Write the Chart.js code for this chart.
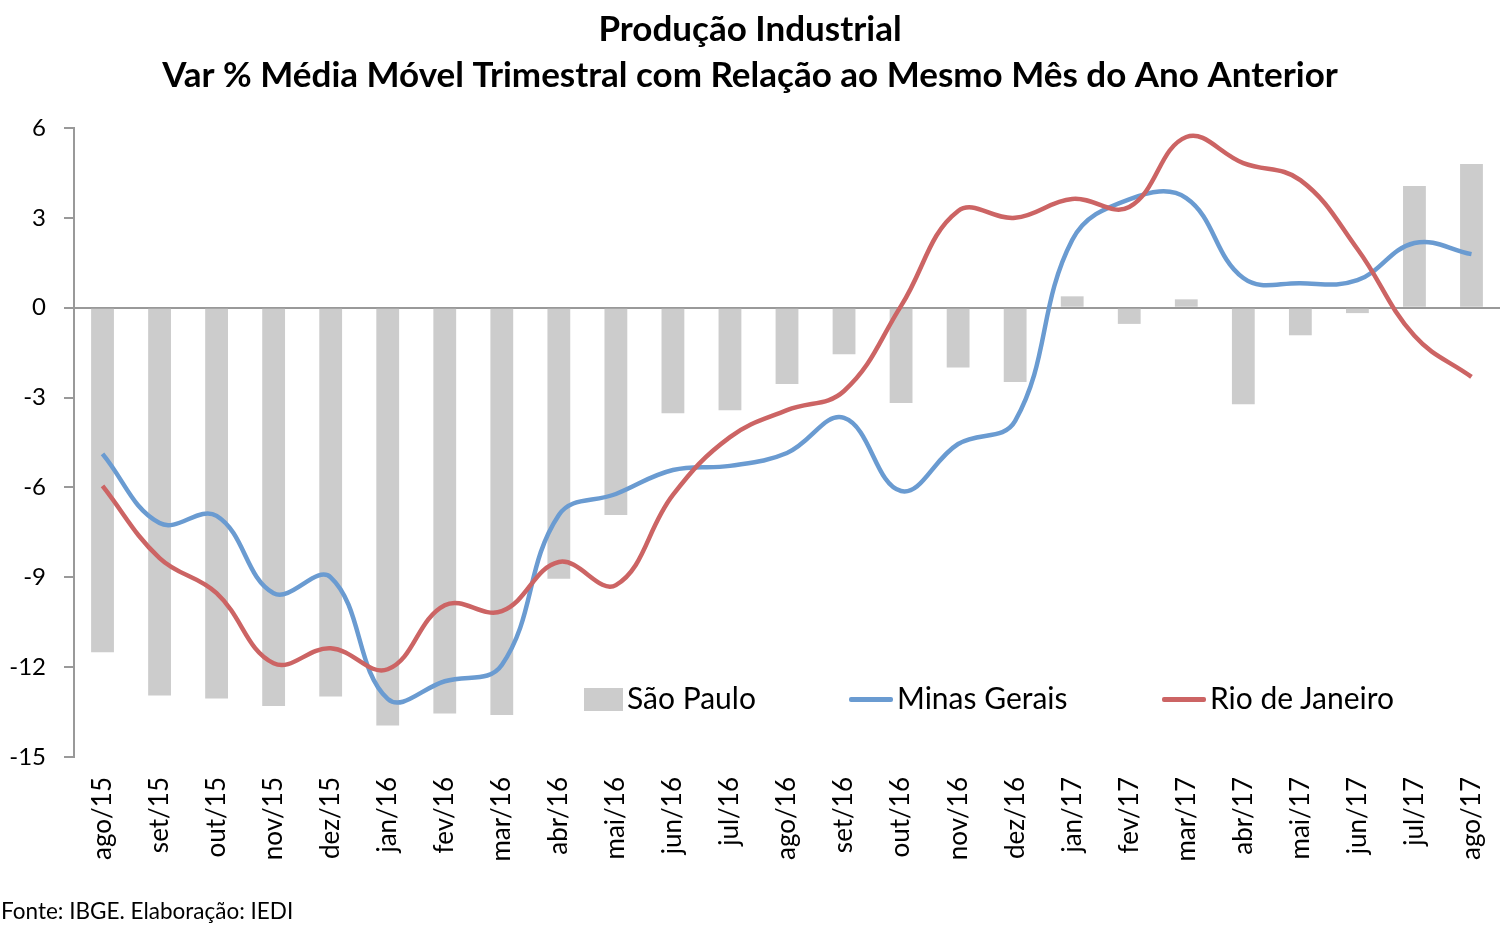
<!DOCTYPE html>
<html lang="pt">
<head>
    <meta charset="UTF-8">
    <title>Produção Industrial</title>
    <script src="https://cdn.jsdelivr.net/npm/chart.js@4.4.0/dist/chart.umd.min.js"></script>
    <style>
        body{
            margin: 0;
            background: #fff;
            font-family: Lato, sans-serif;
        }
        .wrap{
            position: relative;
            width: 1500px;
            height: 925px;
        }
        .item{
            position: absolute;
            top: 678px;
            height: 38px;
            line-height: 38px;
            font-size: 30px;
            color: #000;
            white-space: nowrap;
        }
        .mark{
            display: inline-block;
            vertical-align: middle;
            margin-right: 4px;
            position: relative;
            top: -2px;
        }
        .fonte{
            position: absolute;
            left: 1px;
            top: 897px;
            font-size: 22.5px;
        }
    </style>
</head>
<body>
<div class="wrap">
    <canvas id="grafico" width="1500" height="925"></canvas>
    <div id="legenda"></div>
    <div class="fonte">Fonte: IBGE. Elaboração: IEDI</div>
</div>
<script>
    var meses = ['ago/15','set/15','out/15','nov/15','dez/15','jan/16','fev/16','mar/16','abr/16','mai/16','jun/16','jul/16',
                 'ago/16','set/16','out/16','nov/16','dez/16','jan/17','fev/17','mar/17','abr/17','mai/17','jun/17','jul/17','ago/17'];
    var saoPaulo = [-11.5,-12.95,-13.05,-13.3,-12.98,-13.95,-13.55,-13.6,-9.05,-6.92,-3.52,-3.42,
                    -2.55,-1.55,-3.18,-2.0,-2.48,0.38,-0.54,0.28,-3.22,-0.92,-0.18,4.06,4.8];
    var minasGerais = [-4.88,-7.19,-6.95,-9.53,-9.0,-13.06,-12.47,-11.93,-6.92,-6.22,-5.42,-5.28,
                       -4.85,-3.68,-6.12,-4.55,-3.78,2.26,3.62,3.66,0.99,0.82,0.92,2.16,1.79];
    var rioJaneiro = [-5.95,-8.36,-9.53,-11.87,-11.37,-12.07,-9.93,-10.13,-8.49,-9.26,-6.25,-4.32,
                      -3.42,-2.78,0.06,3.23,3.0,3.63,3.36,5.7,4.83,4.26,1.96,-0.94,-2.31];
    var yTicks = [-15,-12,-9,-6,-3,0,3,6];

    var cinza = '#cccccc';
    var azul = '#6a9bd1';
    var vermelho = '#cc6464';

    var ctx = document.getElementById('grafico').getContext('2d');
    var chart = new Chart(ctx, {
        type: 'bar',
        data: {
            labels: meses,
            datasets: [
                {
                    type: 'line',
                    label: 'Minas Gerais',
                    data: minasGerais,
                    borderColor: azul,
                    borderWidth: 4.5,
                    pointRadius: 0,
                    tension: 0.4,
                    fill: false,
                    order: 1
                },
                {
                    type: 'line',
                    label: 'Rio de Janeiro',
                    data: rioJaneiro,
                    borderColor: vermelho,
                    borderWidth: 4.5,
                    pointRadius: 0,
                    tension: 0.4,
                    fill: false,
                    order: 0
                },
                {
                    label: 'São Paulo',
                    data: saoPaulo,
                    backgroundColor: cinza,
                    barPercentage: 0.4,
                    categoryPercentage: 1,
                    order: 2
                }
            ]
        },
        options: {
            responsive: false,
            animation: false,
            layout: { padding: 0 },
            plugins: {
                legend: { display: false },
                tooltip: { enabled: false },
                title: {
                    display: true,
                    text: ['Produção Industrial', 'Var % Média Móvel Trimestral com Relação ao Mesmo Mês do Ano Anterior'],
                    color: '#000',
                    font: { family: 'Lato', size: 35, weight: 'bold', lineHeight: 1.3 },
                    padding: { top: 7, bottom: 30 }
                }
            },
            scales: {
                x: {
                    offset: true,
                    grid: { display: false },
                    border: { display: false },
                    ticks: {
                        color: '#000',
                        font: { family: 'Lato', size: 26 },
                        minRotation: 90,
                        maxRotation: 90,
                        padding: 12,
                        autoSkip: false
                    },
                    afterFit: function(scale) {
                        scale.height = 168;
                        scale.paddingRight = 0;
                        scale.paddingLeft = 0;
                    }
                },
                y: {
                    min: -15,
                    max: 6,
                    afterBuildTicks: function(scale) {
                        scale.ticks = yTicks.map(function(v) { return { value: v }; });
                    },
                    grid: {
                        color: function(c) { return c.tick && c.tick.value === 0 ? '#999999' : 'rgba(0,0,0,0)'; },
                        tickColor: '#999999',
                        tickLength: 10,
                        lineWidth: 2
                    },
                    border: { display: true, color: '#999999', width: 2 },
                    ticks: {
                        color: '#000',
                        font: { family: 'Lato', size: 24 },
                        padding: 18
                    },
                    afterFit: function(scale) { scale.width = 74; }
                }
            }
        }
    });

    // legenda em HTML, posicionada dentro da área do gráfico como no original
    var legenda = document.getElementById('legenda');
    var itens = [
        { nome: 'São Paulo', cor: cinza, tipo: 'caixa', x: 584 },
        { nome: 'Minas Gerais', cor: azul, tipo: 'linha', x: 849 },
        { nome: 'Rio de Janeiro', cor: vermelho, tipo: 'linha', x: 1162 }
    ];
    itens.forEach(function(it) {
        var span = document.createElement('div');
        span.className = 'item';
        span.style.left = it.x + 'px';
        var m = document.createElement('span');
        m.className = 'mark';
        if (it.tipo === 'caixa') {
            m.style.width = '39px';
            m.style.height = '23px';
        } else {
            m.style.width = '44px';
            m.style.height = '4.5px';
            m.style.borderRadius = '2px';
        }
        m.style.background = it.cor;
        span.appendChild(m);
        span.appendChild(document.createTextNode(it.nome));
        legenda.appendChild(span);
    });
</script>
</body>
</html>
